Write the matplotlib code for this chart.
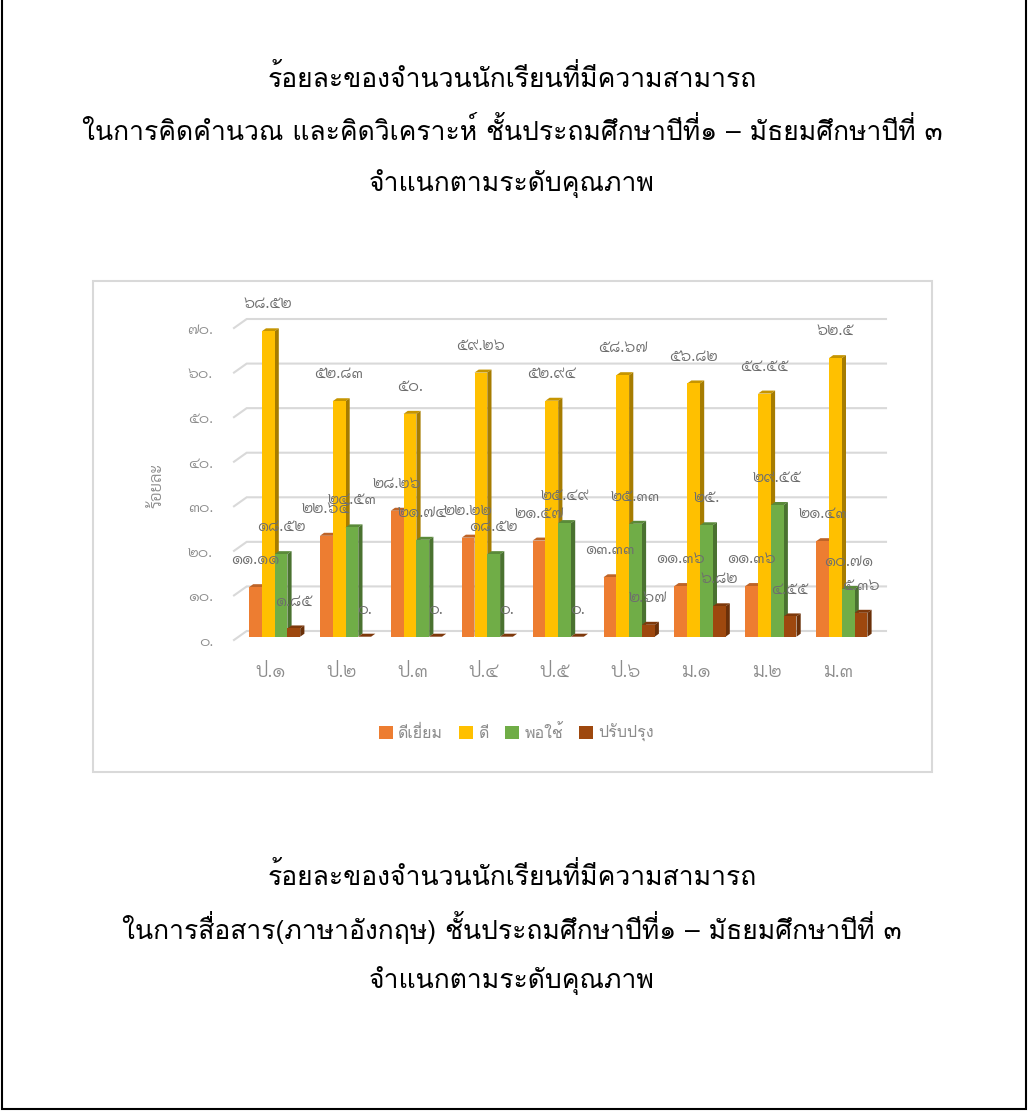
import matplotlib
matplotlib.use('Agg')
import matplotlib.pyplot as plt
from matplotlib.patches import Rectangle, Patch
from matplotlib.lines import Line2D
from matplotlib.transforms import ScaledTranslation

W, H, DPI = 1028, 1113, 100
plt.rcParams['font.family'] = ['Loma', 'Sarabun', 'DejaVu Sans']
DIGITS = ['Sarabun', 'DejaVu Sans']

# ---------- data ----------
categories = ['ป.๑', 'ป.๒', 'ป.๓', 'ป.๔', 'ป.๕', 'ป.๖', 'ม.๑', 'ม.๒', 'ม.๓']
series_names = ['ดีเยี่ยม', 'ดี', 'พอใช้', 'ปรับปรุง']
excellent = [11.11, 22.64, 28.26, 22.22, 21.57, 13.33, 11.36, 11.36, 21.43]
good = [68.52, 52.83, 50.0, 59.26, 52.94, 58.67, 56.82, 54.55, 62.5]
fair = [18.52, 24.53, 21.74, 18.52, 25.49, 25.33, 25.0, 29.55, 10.71]
improve = [1.85, 0.0, 0.0, 0.0, 0.0, 2.67, 6.82, 4.55, 5.36]
y_ticks = [0, 10, 20, 30, 40, 50, 60, 70]
y_title = 'ร้อยละ'
title_top = ['ร้อยละของจำนวนนักเรียนที่มีความสามารถ',
             'ในการคิดคำนวณ และคิดวิเคราะห์ ชั้นประถมศึกษาปีที่๑ – มัธยมศึกษาปีที่ ๓',
             'จำแนกตามระดับคุณภาพ']
title_bottom = ['ร้อยละของจำนวนนักเรียนที่มีความสามารถ',
                'ในการสื่อสาร(ภาษาอังกฤษ) ชั้นประถมศึกษาปีที่๑ – มัธยมศึกษาปีที่ ๓',
                'จำแนกตามระดับคุณภาพ']
series = [excellent, good, fair, improve]

# ---------- styles ----------
front = ['#ED7D31', '#FFC000', '#70AD47', '#9E480E']
top_c = ['#BE6428', '#C69500', '#5A8A39', '#7E390B']
side_c = ['#B35E25', '#A67C00', '#4A7230', '#6A3009']
GRID = '#D9D9D9'
TXT = '#8C8C8C'

TH = str.maketrans('0123456789', '๐๑๒๓๔๕๖๗๘๙')
def thai(v):
    return f'{v:.2f}'.rstrip('0').translate(TH)

fig = plt.figure(figsize=(W / DPI, H / DPI), dpi=DPI, facecolor='white')

def fx(px): return px / W
def fy(py): return 1 - py / H

# page border and chart frame
fig.add_artist(Line2D([fx(x) for x in [2, 2, 1026, 1026]], [fy(y) for y in [-5, 1108.5, 1108.5, -5]],
                      color='black', lw=1.5, zorder=-2, solid_joinstyle='miter'))
fig.add_artist(Rectangle((fx(93), fy(772)), fx(932 - 93), fy(281) - fy(772), facecolor='white',
                         edgecolor=GRID, lw=1.5, zorder=-1))

# titles
for lines, ys in ((title_top, (78, 131, 184)), (title_bottom, (876, 928, 981))):
    for s, y in zip(lines, ys):
        fig.text(fx(512), fy(y), s, ha='center', va='center', fontsize=19.1, color='black')

# plot axes
PX_UNIT = 4.457
GROUP = 70.9
y0 = 636.7
L, R = 234, 886
ax = fig.add_axes([fx(L), fy(y0), fx(R - L), fy(y0 - 70 * PX_UNIT) - fy(y0)])
ax.patch.set_visible(False)
ax.set_xlim((L - 271) / GROUP, (R - 271) / GROUP)
ax.set_ylim(0, 70)
for s in ax.spines.values():
    s.set_visible(False)

w = 12.8 / GROUP
shift = 3.6 / GROUP
dx = 4.2 / GROUP
dy = 3.0 / PX_UNIT

# gridlines with side wall
xl = ax.get_xlim()
wall = 12.7 / GROUP
for v in y_ticks:
    ax.plot([xl[0], xl[0] + wall, xl[1]], [v - 0.74, v + 1.28, v + 1.28], color=GRID, lw=1.5,
            clip_on=False, zorder=1, solid_joinstyle='miter')

# 3-D looking bars
for i in range(len(categories)):
    for j, vals in enumerate(series):
        v = vals[i]
        x = i + shift + (j - 1.5) * w
        a, b = x - w / 2, x + w / 2
        z = 2 + i + j * 0.1
        ax.fill([a, a + dx, b + dx, b], [v, v + dy, v + dy, v], color=top_c[j], lw=0, zorder=z, clip_on=False)
        ax.fill([b, b + dx, b + dx, b], [0, dy, v + dy, v], color=side_c[j], lw=0, zorder=z, clip_on=False)
        ax.bar(x, v, width=w, color=front[j], lw=0, zorder=z + 0.01, clip_on=False)

# value labels
for i in range(len(categories)):
    for j, vals in enumerate(series):
        x = i + shift + (j - 1.5) * w
        ax.annotate(thai(vals[i]), (x, vals[i]), xytext=(0, 27.5 * 72 / DPI), textcoords='offset points',
                    ha='center', va='center', fontsize=12, family=DIGITS, weight=300, color='#6E6E6E',
                    zorder=50, annotation_clip=False)

# ticks
ax.set_xticks(range(len(categories)), categories, fontsize=14, color=TXT, family=DIGITS, weight=300)
ax.set_yticks(y_ticks, [thai(v) for v in y_ticks], fontsize=11.5, color=TXT, family=DIGITS, weight=300)
ax.tick_params(length=0)
ax.tick_params(axis='x', pad=19)
ax.tick_params(axis='y', pad=21 * 72 / DPI)
off = ScaledTranslation(0, -3.5 / DPI, fig.dpi_scale_trans)
for t in ax.get_yticklabels():
    t.set_transform(t.get_transform() + off)

fig.text(fx(157), fy(485), y_title, rotation=90, ha='center', va='center', fontsize=12, color=TXT,
         family=DIGITS, weight=300)

# legend
handles = [Patch(facecolor=c, edgecolor='none') for c in front]
fig.legend(handles, series_names, ncols=4, loc='center', bbox_to_anchor=(fx(516.5), fy(733)), frameon=False,
           fontsize=11.5, labelcolor=TXT, handlelength=0.875, handleheight=0.875, handletextpad=0.35,
           columnspacing=1.0, borderpad=0)

fig.savefig('out.png', dpi=DPI)
